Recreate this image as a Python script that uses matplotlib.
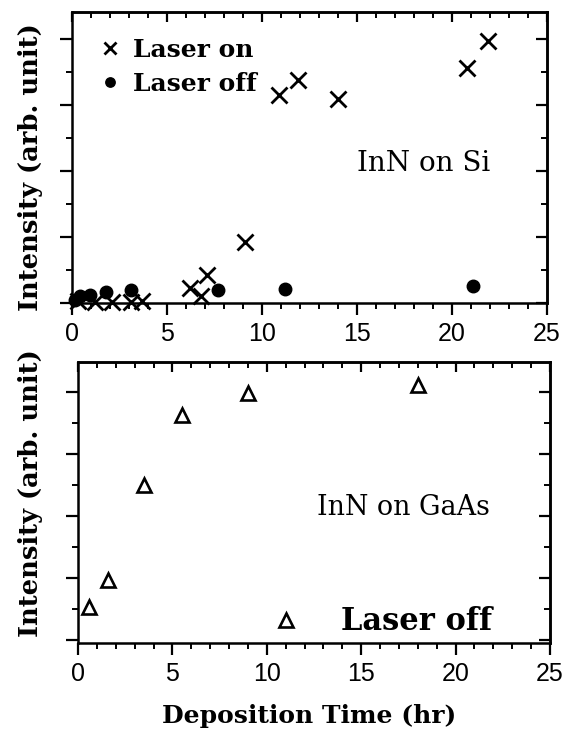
import matplotlib
matplotlib.use("Agg")
import matplotlib.pyplot as plt
from matplotlib.ticker import MultipleLocator, NullFormatter

# InN on Si, laser on / laser off
si_on_time = [0.3, 1.2, 2.1, 3.1, 3.7, 6.2, 6.8, 7.1, 9.1, 10.9, 11.9, 14.0, 20.8, 21.9]
si_on_int = [0.03, 0.02, 0.02, 0.02, 0.03, 0.22, 0.10, 0.42, 0.92, 3.15, 3.38, 3.09, 3.56, 3.97]
si_off_time = [0.15, 0.4, 0.95, 1.8, 3.1, 7.7, 11.2, 21.1]
si_off_int = [0.05, 0.10, 0.12, 0.17, 0.20, 0.20, 0.21, 0.26]

# InN on GaAs, laser off
gaas_time = [0.6, 1.6, 3.5, 5.5, 9.0, 18.0]
gaas_int = [0.53, 0.97, 2.50, 3.62, 3.98, 4.11]

serif = ["DejaVu Serif"]
sans = ["Liberation Sans", "DejaVu Sans"]


def style_axes(ax, ylim):
    ax.set_xlim(0, 25)
    ax.set_ylim(*ylim)
    for s in ax.spines.values():
        s.set_linewidth(1.8)
    ax.xaxis.set_major_locator(MultipleLocator(5))
    ax.xaxis.set_minor_locator(MultipleLocator(1))
    ax.yaxis.set_major_locator(MultipleLocator(1))
    ax.yaxis.set_minor_locator(MultipleLocator(0.5))
    ax.yaxis.set_major_formatter(NullFormatter())
    ax.tick_params(which="major", direction="out", length=8.5, width=1.6,
                   labelsize=18, pad=5)
    ax.tick_params(which="minor", direction="out", length=4.5, width=1.4)
    ax.tick_params(axis="y", which="both", labelleft=False)
    for lab in ax.get_xticklabels():
        lab.set_family(sans)

    # top and right ticks point inwards, no labels
    top = ax.secondary_xaxis("top")
    top.xaxis.set_major_locator(MultipleLocator(5))
    top.xaxis.set_minor_locator(MultipleLocator(1))
    top.tick_params(which="major", direction="in", length=7, width=1.6, labeltop=False)
    top.tick_params(which="minor", direction="in", length=4, width=1.4)
    top.spines["top"].set_linewidth(1.8)

    right = ax.secondary_yaxis("right")
    right.yaxis.set_major_locator(MultipleLocator(1))
    right.yaxis.set_minor_locator(MultipleLocator(0.5))
    right.tick_params(which="major", direction="in", length=8, width=1.6, labelright=False)
    right.tick_params(which="minor", direction="in", length=4.5, width=1.4)
    right.spines["right"].set_linewidth(1.8)

    ax.set_ylabel("Intensity (arb. unit)", family=serif, fontweight="bold", fontsize=18.5)


fig = plt.figure(figsize=(5.69, 7.29), dpi=100)
ax1 = fig.add_axes([72 / 569, 1 - 303 / 729, 475 / 569, 291 / 729])
ax2 = fig.add_axes([78 / 569, 1 - 643 / 729, 472 / 569, 281 / 729])

# top panel
ax1.plot(si_on_time, si_on_int, linestyle="none", marker="x", ms=11, mew=2.0,
         color="black", label="Laser on", clip_on=False)
ax1.plot(si_off_time, si_off_int, linestyle="none", marker="o", ms=9,
         color="black", label="Laser off", clip_on=False)
style_axes(ax1, (0, 4.41))
ax1.yaxis.set_label_coords(-0.061, 0.467)
ax1.legend(loc="upper left", bbox_to_anchor=(0.059, 0.911), frameon=False,
           handlelength=0.8, handletextpad=0.5, markerscale=0.75,
           labelspacing=0.4, borderpad=0, borderaxespad=0,
           prop={"family": serif, "weight": "bold", "size": 18})
ax1.text(15.0, 2.12, "InN on Si", family=serif, fontsize=20,
         ha="left", va="center")

# bottom panel
ax2.plot(gaas_time, gaas_int, linestyle="none", marker="^", ms=10, mew=1.9,
         mfc="white", mec="black", label="Laser off", clip_on=False)
style_axes(ax2, (-0.05, 4.48))
ax2.yaxis.set_label_coords(-0.074, 0.534)
ax2.legend(loc="lower right", bbox_to_anchor=(0.877, 0.02), frameon=False,
           handlelength=1.0, handletextpad=1.3, borderpad=0, borderaxespad=0,
           prop={"family": serif, "weight": "bold", "size": 22})
ax2.text(12.66, 2.14, "InN on GaAs", family=serif, fontsize=19.4,
         ha="left", va="center")
ax2.set_xlabel("Deposition Time (hr)", family=serif, fontweight="bold", fontsize=18)
ax2.xaxis.set_label_coords(0.489, -0.218)

fig.savefig("out.png", dpi=100)
